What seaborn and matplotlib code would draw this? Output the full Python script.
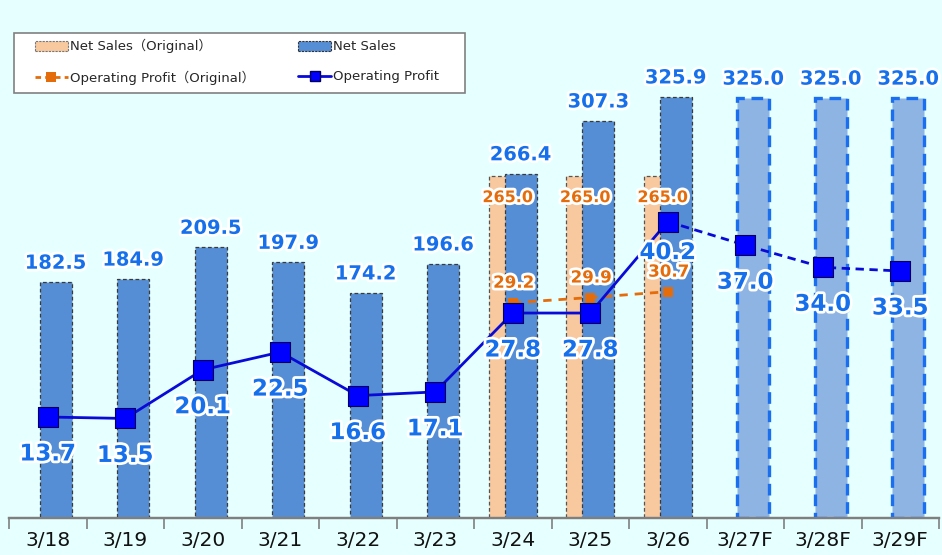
import numpy as np
import pandas as pd
import matplotlib
matplotlib.use("Agg")
import matplotlib.pyplot as plt
import matplotlib.patheffects as pe
from matplotlib.patches import Patch, Rectangle
from matplotlib.lines import Line2D
import seaborn as sns

categories = ['3/18', '3/19', '3/20', '3/21', '3/22', '3/23', '3/24', '3/25', '3/26', '3/27F', '3/28F', '3/29F']
net_sales = [182.5, 184.9, 209.5, 197.9, 174.2, 196.6, 266.4, 307.3, 325.9, 325.0, 325.0, 325.0]
is_forecast = [False] * 9 + [True] * 3
orig_categories = ['3/24', '3/25', '3/26']
net_sales_original = [265.0, 265.0, 265.0]
op_profit = [13.7, 13.5, 20.1, 22.5, 16.6, 17.1, 27.8, 27.8, 40.2, 37.0, 34.0, 33.5]
op_profit_original = [29.2, 29.9, 30.7]

sns.set_theme(style="white")
plt.rcParams['font.family'] = ['DejaVu Sans', 'Noto Sans CJK JP']

BG = '#E6FFFF'
BLUE_BAR = '#558ED5'
FC_FILL = '#8EB4E3'
FC_EDGE = '#1A6FF0'
ORANGE_FILL = '#F8C99E'
ORANGE = '#E46C0A'
LABEL_BLUE = '#1670EC'
LINE_BLUE = '#0A0AD8'

W, H = 942, 555
fig = plt.figure(figsize=(W / 100, H / 100), dpi=100, facecolor=BG)
ax = fig.add_axes([9 / W, 37 / H, 930 / W, 508 / H])
ax.set_facecolor(BG)
ax2 = ax.twinx()

x = np.arange(len(categories))
pos = {c: i for i, c in enumerate(categories)}
xo = np.array([pos[c] for c in orig_categories])
off = 8 / 77.5
bw = 32 / 77.5

# Original net sales bars (behind)
ax.bar(xo - off, net_sales_original, width=bw, color=ORANGE_FILL, edgecolor='#555555',
       linewidth=0.9, linestyle=(0, (3, 2)), zorder=2)
# Net sales bars
for i, (v, f) in enumerate(zip(net_sales, is_forecast)):
    if f:
        ax.bar(x[i] + off, v, width=bw, color=FC_FILL, edgecolor=FC_EDGE, linewidth=2.4,
               linestyle=(0, (3.5, 2)), zorder=3)
    else:
        ax.bar(x[i] + off, v, width=bw, color=BLUE_BAR, edgecolor='#3a3a3a', linewidth=0.9,
               linestyle=(0, (3, 2)), zorder=3)

glow = [pe.withStroke(linewidth=4, foreground='white')]
for i, v in enumerate(net_sales):
    ax.annotate(f"{v:.1f}", (x[i] + off, v), xytext=(0, 19), textcoords='offset pixels',
                ha='center', va='center', fontsize=14, fontweight='bold', color=LABEL_BLUE,
                path_effects=glow, zorder=10)
for xi, v in zip(xo, net_sales_original):
    ax.annotate(f"{v:.1f}", (xi - off, v), xytext=(3, -22), textcoords='offset pixels',
                ha='center', va='center', fontsize=11.5, fontweight='bold', color=ORANGE,
                path_effects=glow, zorder=10)

ax.set_xlim(-0.5, len(categories) - 0.5)
ax.set_ylim(0, 393.2)
ax2.set_ylim(0, 68.9)

# Operating profit lines
df = pd.DataFrame({'x': x, 'p': op_profit})
n_act = sum(not f for f in is_forecast)
ax2.plot(x[:n_act], op_profit[:n_act], color=LINE_BLUE, linewidth=2, zorder=5)
ax2.plot(x[n_act - 1:], op_profit[n_act - 1:], color=LINE_BLUE, linewidth=2,
         linestyle=(0, (3, 2)), zorder=5)
sns.scatterplot(data=df, x='x', y='p', ax=ax2, marker='s', s=200, color='#0000FF',
                edgecolor='#00005a', linewidth=0.8, zorder=6, legend=False)
ax2.plot(xo, op_profit_original, color=ORANGE, linewidth=2, linestyle=(0, (3, 2.5)),
         marker='s', markersize=7, markeredgewidth=0, zorder=4)

for i, v in enumerate(op_profit):
    dy = -31 if categories[i] == '3/26' else -37
    ax2.annotate(f"{v:.1f}", (x[i], v), xytext=(0, dy), textcoords='offset pixels',
                 ha='center', va='center', fontsize=16.5, fontweight='bold', color=LABEL_BLUE,
                 path_effects=glow, zorder=10)
for xi, v in zip(xo, op_profit_original):
    ax2.annotate(f"{v:.1f}", (xi, v), xytext=(1, 20), textcoords='offset pixels',
                 ha='center', va='center', fontsize=12, fontweight='bold', color=ORANGE,
                 path_effects=glow, zorder=10)

# Axes styling
for a in (ax, ax2):
    for s in ('top', 'right', 'left'):
        a.spines[s].set_visible(False)
    a.spines['bottom'].set_color('#7f7f7f')
    a.spines['bottom'].set_linewidth(1.6)
ax.set_yticks([])
ax2.set_yticks([])
ax2.set_ylabel('')
ax2.set_xlabel('')
ax.set_xticks(np.arange(-0.5, len(categories)), minor=False)
ax.set_xticklabels([])
ax.set_xticks(x, minor=True)
ax.set_xticklabels(categories, minor=True, fontsize=14.5, color='#111111')
ax.tick_params(axis='x', which='major', length=8, width=1.2, color='#7f7f7f', direction='out', bottom=True)
ax.tick_params(axis='x', which='minor', length=0, pad=9, bottom=True)
ax2.tick_params(axis='x', length=0)

# Legend frame
fig.patches.append(Rectangle((14 / W, (H - 93) / H), 451 / W, 60 / H, transform=fig.transFigure,
                             facecolor='white', edgecolor='#808080', linewidth=1.2, zorder=20))

handles = [
    Patch(facecolor=ORANGE_FILL, edgecolor='#777777', linestyle=(0, (2, 1)), linewidth=0.8),
    Line2D([], [], color=ORANGE, linestyle=(0, (2, 1.5)), linewidth=2, marker='s', markersize=7, markeredgewidth=0),
    Patch(facecolor=BLUE_BAR, edgecolor='#333333', linestyle=(0, (2, 1)), linewidth=0.8),
    Line2D([], [], color=LINE_BLUE, linewidth=2, marker='s', markersize=7, markerfacecolor='#0000FF', markeredgecolor='#00005a'),
]
labels = ['Net Sales（Original）', 'Operating Profit（Original）', 'Net Sales', 'Operating Profit']
leg = fig.legend(handles, labels, loc='upper left', ncol=2,
                 bbox_to_anchor=(35 / W, (H - 39) / H), borderaxespad=0, borderpad=0,
                 fontsize=9.5, frameon=False,
                 handlelength=2.5, handleheight=0.8, handletextpad=0.15, labelspacing=1.3,
                 columnspacing=3.3)
leg.set_zorder(21)

fig.savefig('out.png', dpi=100, facecolor=BG)
